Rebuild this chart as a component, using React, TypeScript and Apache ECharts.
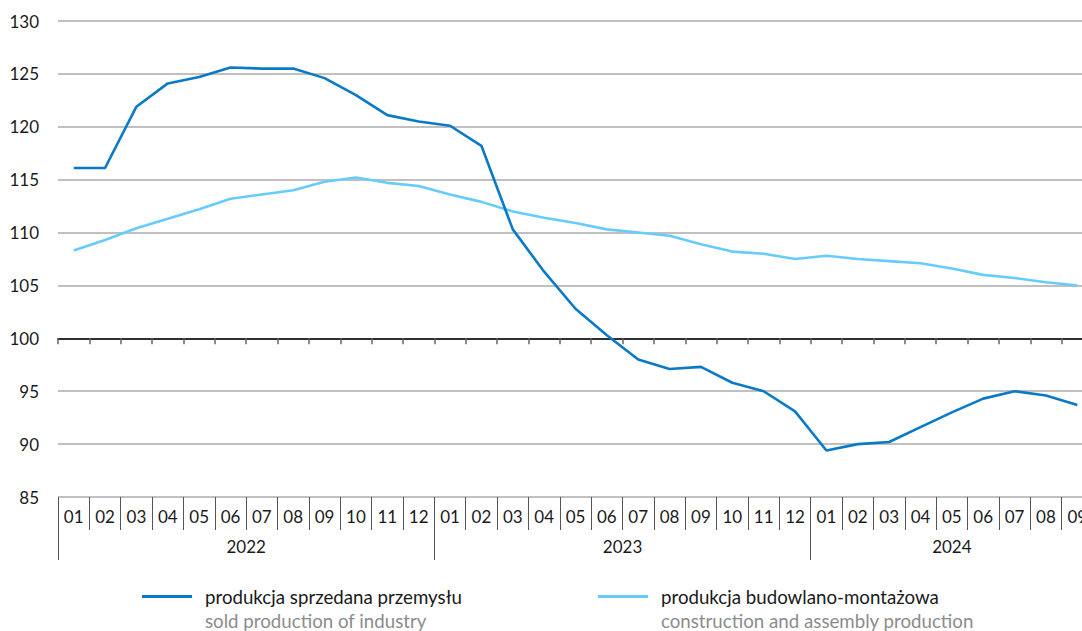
import React, { useEffect, useRef } from "react";
import * as echarts from "echarts";

const months = [
  "01","02","03","04","05","06","07","08","09","10","11","12",
  "01","02","03","04","05","06","07","08","09","10","11","12",
  "01","02","03","04","05","06","07","08","09",
];
const years = ["2022", "2023", "2024"];
const monthsPerYear = [12, 12, 9];

const soldIndustry = [
  116.1, 116.1, 121.9, 124.1, 124.7, 125.6, 125.5, 125.5, 124.6, 123.0, 121.1, 120.5,
  120.1, 118.2, 110.3, 106.3, 102.8, 100.3, 98.0, 97.1, 97.3, 95.8, 95.0, 93.1,
  89.4, 90.0, 90.2, 91.6, 93.0, 94.3, 95.0, 94.6, 93.7,
];
const construction = [
  108.3, 109.3, 110.4, 111.3, 112.2, 113.2, 113.6, 114.0, 114.8, 115.2, 114.7, 114.4,
  113.6, 112.9, 112.0, 111.4, 110.9, 110.3, 110.0, 109.7, 108.9, 108.2, 108.0, 107.5,
  107.8, 107.5, 107.3, 107.1, 106.6, 106.0, 105.7, 105.3, 105.0,
];

const seriesNamesPl = ["produkcja sprzedana przemysłu", "produkcja budowlano-montażowa"];
const seriesNamesEn = ["sold production of industry", "construction and assembly production"];
const yMin = 85;
const yMax = 130;
const yStep = 5;

const FONT = "Lato";
const DARK = "#0a7ac8";
const LIGHT = "#66ccff";

export default function App() {
  const ref = useRef<HTMLDivElement>(null);

  useEffect(() => {
    if (!ref.current) return;
    const chart = echarts.init(ref.current, undefined, { renderer: "svg" });

    const yearStarts: number[] = [];
    const yearCenters: number[] = [];
    let acc = 0;
    monthsPerYear.forEach((n) => {
      yearStarts.push(acc);
      yearCenters.push(acc + n / 2);
      acc += n;
    });
    const total = acc;

    const gridLeft = 58;
    const gridTop = 21;
    const gridHeight = 476;
    const y100 = gridTop + (gridHeight * (yMax - 100)) / (yMax - yMin);

    const legendCommon = {
      orient: "horizontal",
      padding: 0,
      itemWidth: 50,
      itemHeight: 3,
      selectedMode: false,
    };
    const legendFont = 18.7;

    const option: any = {
      animation: false,
      grid: [
        { left: gridLeft, right: 0, top: gridTop, height: gridHeight },
        { left: gridLeft, right: 0, top: y100, height: 100 },
        { left: gridLeft, right: 0, top: gridTop + gridHeight, height: 63 },
      ],
      xAxis: [
        {
          type: "category",
          gridIndex: 0,
          data: months,
          boundaryGap: true,
          show: false,
        },
        {
          type: "category",
          gridIndex: 1,
          data: months,
          position: "top",
          boundaryGap: true,
          axisLine: { show: true, onZero: false, lineStyle: { color: "#000", width: 1.5 } },
          axisTick: { show: true, inside: true, length: 6, interval: 0, lineStyle: { color: "#666", width: 1.5 } },
          axisLabel: { show: false },
          splitLine: { show: false },
        },
        {
          type: "category",
          gridIndex: 2,
          data: months,
          position: "top",
          boundaryGap: true,
          axisLine: { show: false, onZero: false },
          axisTick: { show: true, inside: true, length: 33, interval: 0, lineStyle: { color: "#555", width: 1 } },
          axisLabel: {
            show: true,
            inside: true,
            interval: 0,
            margin: 11,
            fontFamily: FONT,
            fontSize: 17,
            color: "#1a1a1a",
          },
          splitLine: { show: false },
        },
        {
          type: "value",
          gridIndex: 2,
          min: 0,
          max: total,
          position: "top",
          axisLine: { show: false, onZero: false },
          axisTick: {
            show: true,
            inside: true,
            length: 63,
            customValues: yearStarts,
            lineStyle: { color: "#555", width: 1 },
          },
          axisLabel: {
            show: true,
            inside: true,
            margin: 41,
            customValues: yearCenters,
            formatter: (v: number) => {
              const i = yearCenters.findIndex((c) => Math.abs(c - v) < 1e-6);
              return i >= 0 ? years[i] : "";
            },
            fontFamily: FONT,
            fontSize: 17,
            color: "#1a1a1a",
          },
          splitLine: { show: false },
        },
      ],
      yAxis: [
        {
          type: "value",
          gridIndex: 0,
          min: yMin,
          max: yMax,
          interval: yStep,
          axisLine: { show: false },
          axisTick: { show: false },
          axisLabel: { margin: 19, fontFamily: FONT, fontSize: 17, color: "#1a1a1a" },
          splitLine: { show: true, lineStyle: { color: "#ababab", width: 1.5 } },
        },
        { type: "value", gridIndex: 1, show: false, min: 0, max: 1 },
        { type: "value", gridIndex: 2, show: false, min: 0, max: 1 },
      ],
      legend: [
        {
          ...legendCommon,
          left: 142,
          top: 587,
          icon: "rect",
          data: [seriesNamesPl[0]],
          textStyle: { fontFamily: FONT, fontSize: legendFont, color: "#1a1a1a", padding: [0, 0, 0, 8] },
        },
        {
          ...legendCommon,
          left: 598,
          top: 587,
          icon: "rect",
          data: [seriesNamesPl[1]],
          textStyle: { fontFamily: FONT, fontSize: legendFont, color: "#1a1a1a", padding: [0, 0, 0, 8] },
        },
        {
          ...legendCommon,
          left: 142,
          top: 611,
          icon: "none",
          data: [seriesNamesPl[0]],
          formatter: () => seriesNamesEn[0],
          textStyle: { fontFamily: FONT, fontSize: legendFont, color: "#8c8c8c", padding: [0, 0, 0, 8] },
        },
        {
          ...legendCommon,
          left: 598,
          top: 611,
          icon: "none",
          data: [seriesNamesPl[1]],
          formatter: () => seriesNamesEn[1],
          textStyle: { fontFamily: FONT, fontSize: legendFont, color: "#8c8c8c", padding: [0, 0, 0, 8] },
        },
      ],
      series: [
        {
          name: seriesNamesPl[1],
          type: "line",
          xAxisIndex: 0,
          yAxisIndex: 0,
          data: construction,
          symbol: "none",
          lineStyle: { color: LIGHT, width: 2.6 },
          itemStyle: { color: LIGHT },
          z: 3,
        },
        {
          name: seriesNamesPl[0],
          type: "line",
          xAxisIndex: 0,
          yAxisIndex: 0,
          data: soldIndustry,
          symbol: "none",
          lineStyle: { color: DARK, width: 2.6 },
          itemStyle: { color: DARK },
          z: 4,
        },
      ],
    };

    chart.setOption(option);
    return () => chart.dispose();
  }, []);

  return (
    <div
      style={{
        position: "fixed",
        left: 0,
        top: 0,
        width: 1082,
        height: 631,
        overflow: "hidden",
        background: "#fff",
      }}
    >
      <div ref={ref} style={{ width: 1093, height: 631 }} />
    </div>
  );
}
